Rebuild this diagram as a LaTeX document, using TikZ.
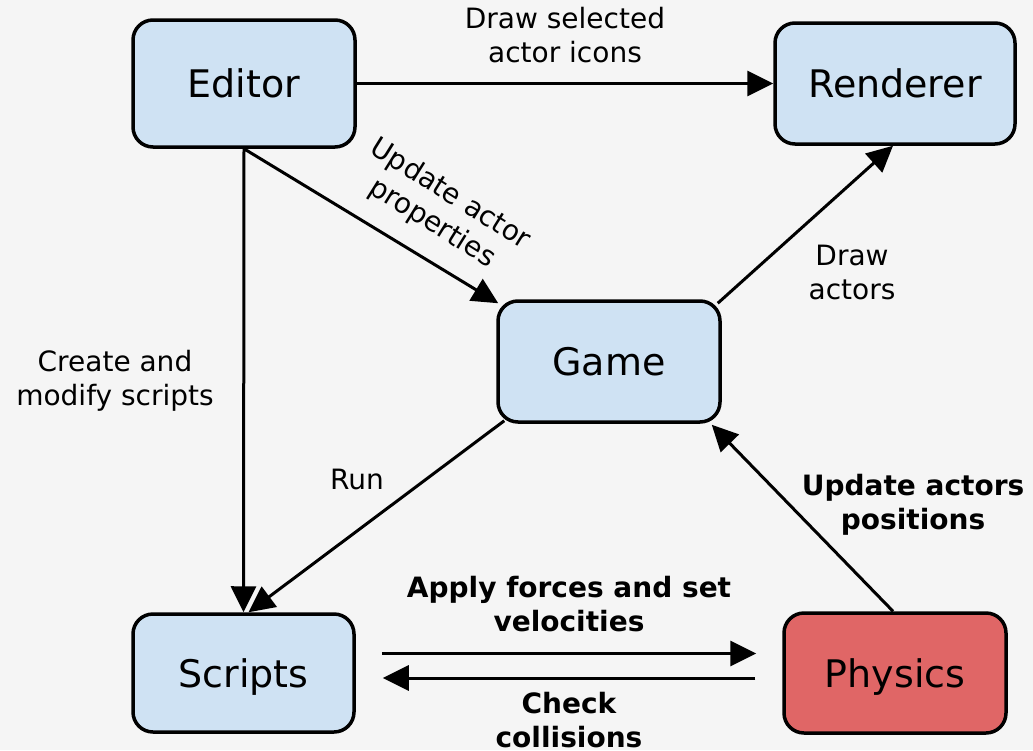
\documentclass[tikz,border=0pt]{standalone}
\usepackage{fontspec}
\setmainfont{DejaVu Sans}
\usetikzlibrary{arrows.meta}
\definecolor{bgc}{HTML}{F5F5F5}
\definecolor{boxblue}{HTML}{CFE2F3}
\definecolor{boxred}{HTML}{E06666}
\begin{document}
\begin{tikzpicture}[x=1pt,y=-1pt,
  module/.style={draw=black, line width=3.5pt, rounded corners=20pt, fill=boxblue,
    inner sep=0pt, text height=28pt, text depth=0pt, font=\fontsize{38}{46}\selectfont},
  flow/.style={draw=black, line width=3pt, -{Triangle[length=26pt,width=25pt]}},
  lbl/.style={font=\fontsize{28}{34}\selectfont, align=center, inner sep=0pt},
  blbl/.style={font=\fontsize{28}{34}\selectfont\bfseries, align=center, inner sep=0pt}]
  % canvas
  \fill[bgc] (0,0) rectangle (1033,750);
  \useasboundingbox (0,0) rectangle (1033,750);

  % subsystems
  \node[module, minimum width=222pt, minimum height=127pt] (editor) at (244,83.5) {Editor};
  \node[module, minimum width=240pt, minimum height=121pt] (renderer) at (895,83.5) {Renderer};
  \node[module, minimum width=222pt, minimum height=121pt] (game) at (609,361.5) {Game};
  \node[module, minimum width=221pt, minimum height=118pt] (scripts) at (243.5,673) {Scripts};
  \node[module, fill=boxred, minimum width=222pt, minimum height=120pt] (physics) at (895,673) {Physics};

  % editor links
  \draw[flow] (editor.east) -- (renderer.west);
  \node[lbl] (lselected) at (565,35.5) {Draw selected\\actor icons};
  \draw[flow] (editor.south) -- ([shift={(2,4)}]game.north west);
  \node[lbl, rotate=-32] (lprops) at (441,209) {Update actor\\properties};
  \draw[flow] (editor.south) -- (scripts.north);
  \node[lbl] (lcreate) at (115,381) {Create and\\modify scripts};

  % game links
  \draw[flow] ([shift={(-4,4)}]game.north east) -- ([xshift=-2]renderer.south);
  \node[lbl] (ldraw) at (852,272) {Draw\\actors};
  \draw[flow] ([shift={(8,-3)}]game.south west) -- ([xshift=5]scripts.north);
  \node[lbl] (lrun) at (357,479) {Run};

  % physics links
  \draw[flow] ([xshift=-2]physics.north) -- ([shift={(-10,1)}]game.south east);
  \node[blbl] (lpos) at (913,505) {Update actors\\positions};
  \draw[flow] ([shift={(26,-19.5)}]scripts.east) -- ([shift={(-26,-19.5)}]physics.west);
  \node[blbl] (lforces) at (569,604) {Apply forces and set\\velocities};
  \draw[flow] ([shift={(-27,5)}]physics.west) -- ([shift={(27,5)}]scripts.east);
  \node[blbl] (lcheck) at (569,720) {Check\\collisions};
\end{tikzpicture}
\end{document}
